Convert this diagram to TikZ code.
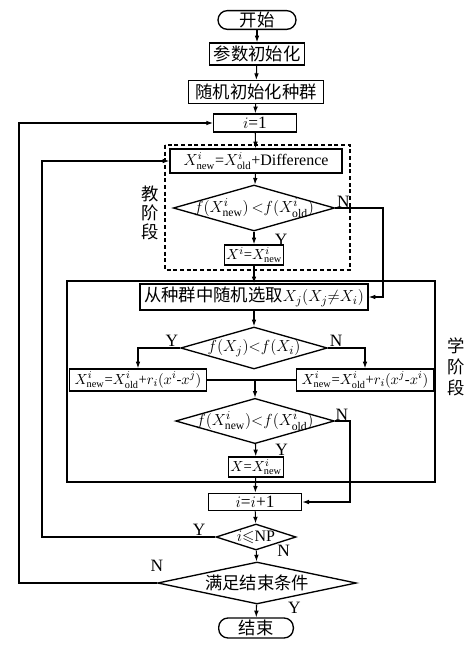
\documentclass[tikz,border=0pt]{standalone}
\usepackage{amssymb}
\usepackage{fontspec}
\setmainfont{Liberation Serif}
\newfontfamily\cjk{Noto Sans CJK SC}
\usetikzlibrary{shapes.geometric,arrows.meta}

\tikzset{
    kasten/.style={draw, line width=1pt, inner sep=1pt},
    ende/.style={kasten, rounded corners=7pt},
    raute/.style={diamond, draw, line width=1pt, inner sep=0pt},
    formel/.style={font=\fontsize{11}{13}\selectfont},
    rautetext/.style={font=\fontsize{12.5}{14}\selectfont},
    pfeil/.style={-{Latex[length=5pt,width=3.5pt]}, line width=0.8pt},
    linie/.style={line width=0.8pt}
}

\begin{document}
\begin{tikzpicture}[x=0.75pt, y=-0.75pt, font=\fontsize{13}{15}\selectfont]
    \useasboundingbox (0,0) rectangle (469,645);
    % Rahmen der beiden Phasen
    \draw[densely dashed, line width=1.3pt] (165,145) rectangle (350,270);
    \draw[line width=1.6pt] (67,281) rectangle (435,482);
    \path node[ende, minimum width=58.5pt, minimum height=13.5pt] (start) at (257,20) {\cjk 开始}
        node[kasten, minimum width=71pt, minimum height=16.5pt] (init) at (257,54) {\cjk 参数初始化}
        node[kasten, minimum width=101pt, minimum height=17pt] (pop) at (256,92) {\cjk 随机初始化种群}
        node[kasten, minimum width=62pt, minimum height=13.5pt] (ieins) at (255,123) {$i$=1}
        node[kasten, font=\fontsize{12}{14}\selectfont, minimum width=129pt, minimum height=18pt] (teach) at (256,161) {$X^{i}_{\rm new}$=$X^{i}_{\rm old}$+Difference}
        node[raute, minimum width=121pt, minimum height=34.5pt, label={[rautetext]center:{$f(X^{i}_{\rm new})\,{<}f(X^{i}_{\rm old})$}}] (vgla) at (254,208) {}
        node[kasten, formel, minimum width=43.5pt, minimum height=15pt] (setza) at (254,255) {$X^{i}$=$X^{i}_{\rm new}$}
        node[kasten, minimum width=171pt, minimum height=19.5pt] (wahl) at (254,297) {\cjk 从种群中随机选取$X_j(X_j{\neq}X_i)$}
        node[raute, minimum width=110pt, minimum height=31.5pt, label={[rautetext]center:{$f(X_j){<}f(X_i)$}}] (vglb) at (254,348) {}
        node[kasten, formel, minimum width=103pt, minimum height=16.5pt] (links) at (138,380) {$X^{i}_{\rm new}$=$X^{i}_{\rm old}$+$r_i(x^i$-$x^j)$}
        node[kasten, formel, minimum width=103pt, minimum height=16.5pt] (rechts) at (365,380) {$X^{i}_{\rm new}$=$X^{i}_{\rm old}$+$r_i(x^j$-$x^i)$}
        node[raute, minimum width=119pt, minimum height=34pt, label={[rautetext]center:{$f(X^{i}_{\rm new}){<}f(X^{i}_{\rm old})$}}] (vglc) at (255,421) {}
        node[kasten, formel, minimum width=41pt, minimum height=15pt] (setzb) at (256,467) {$X$=$X^{i}_{\rm new}$}
        node[kasten, minimum width=70pt, minimum height=13pt] (inkr) at (255,502) {$i$=$i$+1}
        node[raute, minimum width=60pt, minimum height=19.5pt, label={[font=\fontsize{12}{14}\selectfont]center:{$i{\leqslant}$NP}}] (vgld) at (256,537) {}
        node[raute, minimum width=149pt, minimum height=31.5pt, label=center:{\cjk 满足结束条件}] (vgle) at (257,583) {}
        node[ende, minimum width=56pt, minimum height=15pt] (stopp) at (256,628) {\cjk 结束};
    \node[align=center, font=\cjk\fontsize{13}{14}\selectfont] (lehrer) at (150,213) {教\\阶\\段};
    \node[align=center, font=\cjk\fontsize{13}{16}\selectfont] (lerner) at (456,367) {学\\阶\\段};
    \coordinate (mitte) at (255,380);
    \coordinate (na) at (383,208);
    \coordinate (nc) at (350,421);
    \coordinate (schleifei) at (42,537);
    \coordinate (schleifea) at (19,583);
    \draw[pfeil] (start) -- (init);
    \draw[pfeil] (init) -- (pop);
    \draw[pfeil] (pop) -- (ieins);
    \draw[pfeil] (ieins) -- (teach);
    \draw[pfeil] (teach) -- (vgla);
    \draw[pfeil] (vgla) -- node[right, xshift=12pt, yshift=-1pt] {Y} (setza);
    \draw[pfeil] (setza) -- (wahl);
    \draw[pfeil] (vgla.east) node[above right, inner sep=0pt, xshift=1pt] {N} -- (na) |- (wahl.east);
    \draw[pfeil] (wahl) -- (vglb);
    \draw[pfeil] (vglb.west) node[above left, inner sep=1pt] {Y} -| (links);
    \draw[pfeil] (vglb.east) node[above right, inner sep=1pt] {N} -| (rechts);
    \draw[linie] (links) -- (rechts);
    \draw[pfeil] (mitte) -- (vglc);
    \draw[pfeil] (vglc) -- node[right, xshift=11pt, yshift=0pt] {Y} (setzb);
    \draw[pfeil] (vglc.east) node[above right, inner sep=0pt] {N} -- (nc) |- (inkr.east);
    \draw[pfeil] (setzb) -- (inkr);
    \draw[pfeil] (inkr) -- (vgld);
    \draw[pfeil] (vgld.west) node[above left, inner sep=1pt, xshift=-6pt] {Y} -- (schleifei) |- (teach.west);
    \draw[pfeil] (vgld) -- node[right, xshift=12pt, yshift=4pt] {N} (vgle);
    \draw[pfeil] (vgle.west) node[above, inner sep=1pt, yshift=7pt] {N} -- (schleifea) |- (ieins.west);
    \draw[pfeil] (vgle) -- node[right, xshift=20pt, yshift=2pt] {Y} (stopp);
\end{tikzpicture}
\end{document}
